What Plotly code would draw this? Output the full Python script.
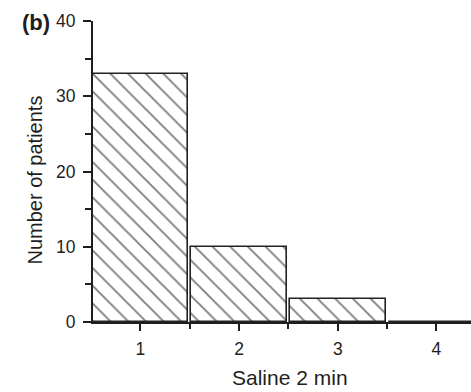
import plotly.graph_objects as go

# Histogram of patient counts per score
categories = [1, 2, 3, 4]
patients = [33, 10, 3, 0]
x_ticks = [1, 2, 3, 4]
y_ticks = [0, 10, 20, 30, 40]
x_minor = [0.5, 1.5, 2.5, 3.5]
y_minor = [5, 15, 25, 35]

fig = go.Figure()
fig.add_trace(go.Bar(
    x=categories,
    y=patients,
    width=0.97,
    marker=dict(
        color="white",
        line=dict(color="#222222", width=1.6),
        pattern=dict(shape="\\", fgcolor="#000000", bgcolor="white",
                     size=12.5, solidity=0.15),
    ),
))

font_family = "Liberation Sans, Arial, sans-serif"
ink = "#1e1e1e"
fig.update_layout(
    width=471, height=392,
    margin=dict(l=93, r=0, t=21, b=70),
    paper_bgcolor="white", plot_bgcolor="white",
    showlegend=False,
    bargap=0,
    font=dict(family=font_family, size=17.5, color=ink),
    xaxis=dict(
        range=[0.52, 4.35],
        tickvals=x_ticks,
        ticks="outside", ticklen=7, tickwidth=1.5, tickcolor=ink,
        ticklabelstandoff=3,
        showline=True, linecolor=ink, linewidth=2,
        showgrid=False, zeroline=False,
        minor=dict(tickvals=x_minor, ticks="outside",
                   ticklen=5, tickwidth=1.5, tickcolor=ink, showgrid=False),
    ),
    yaxis=dict(
        range=[0, 40],
        tickvals=y_ticks,
        ticks="outside", ticklen=8, tickwidth=1.5, tickcolor=ink,
        ticklabelstandoff=4,
        showline=True, linecolor=ink, linewidth=2,
        showgrid=False, zeroline=False,
        minor=dict(tickvals=y_minor, ticks="outside",
                   ticklen=6, tickwidth=1.5, tickcolor=ink, showgrid=False),
    ),
    annotations=[
        # panel letter
        dict(text="<b>(b)</b>", xref="paper", yref="paper",
             x=-0.108, y=0.995, xanchor="right", yanchor="middle",
             showarrow=False, font=dict(size=22, color=ink)),
        # axis titles
        dict(text="Saline 2 min", xref="paper", yref="paper",
             x=0.521, y=-0.185, xanchor="center", yanchor="middle",
             showarrow=False, font=dict(size=21, color=ink)),
        dict(text="Number of patients", xref="paper", yref="paper",
             x=-0.156, y=0.47, xanchor="center", yanchor="middle",
             textangle=-90, showarrow=False, font=dict(size=20, color=ink)),
    ],
)

fig.write_html("out.html")
